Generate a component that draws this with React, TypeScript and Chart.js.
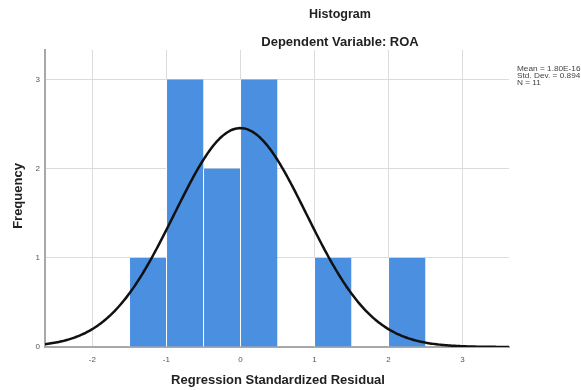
import React, { useEffect, useRef } from "react";
import { Chart, registerables } from "chart.js";

Chart.register(...registerables);

// Histogram bins (bin centers) and frequencies
const binCenters = [-1.25, -0.75, -0.25, 0.25, 0.75, 1.25, 1.75, 2.25];
const frequencies = [1, 3, 2, 3, 0, 1, 0, 1];
const binWidth = 0.5;

// Summary statistics shown at right
const statMean = 1.8e-16;
const statSd = 0.894;
const statN = 11;
const statLabels = ["Mean = 1.80E-16", "Std. Dev. = 0.894", "N = 11"];

const xTicks = [-2, -1, 0, 1, 2, 3];
const yTicks = [0, 1, 2, 3];
const xMin = -2.64;
const xMax = 3.63;
const yMax = 3.33;

const titleText = "Histogram";
const subtitleText = "Dependent Variable: ROA";
const xTitle = "Regression Standardized Residual";
const yTitle = "Frequency";

const FONT = "'Liberation Sans', Arial, sans-serif";

function normalCurve() {
  const pts: { x: number; y: number }[] = [];
  const scale = statN * binWidth;
  const steps = 300;
  for (let i = 0; i <= steps; i++) {
    const x = xMin + ((xMax - xMin) * i) / steps;
    const z = (x - statMean) / statSd;
    const y = (scale / (statSd * Math.sqrt(2 * Math.PI))) * Math.exp(-0.5 * z * z);
    pts.push({ x, y });
  }
  return pts;
}

const textPlugin = {
  id: "textPlugin",
  afterDraw(chart: any) {
    const ctx = chart.ctx;
    const area = chart.chartArea;
    ctx.save();
    ctx.fillStyle = "#222";
    ctx.textAlign = "center";
    ctx.textBaseline = "middle";
    ctx.font = `bold 12.5px ${FONT}`;
    ctx.fillText(titleText, 340, 15);
    ctx.font = `bold 13px ${FONT}`;
    ctx.fillText(subtitleText, 340, 42);
    ctx.fillText(xTitle, (area.left + area.right) / 2 + 1, 380);
    ctx.save();
    ctx.translate(18, 196);
    ctx.rotate(-Math.PI / 2);
    ctx.fillText(yTitle, 0, 0);
    ctx.restore();
    ctx.textAlign = "left";
    ctx.font = `7.5px ${FONT}`;
    ctx.fillStyle = "#444";
    statLabels.forEach((s, i) => {
      ctx.save();
      ctx.translate(517, 69 + i * 7);
      ctx.scale(1.1, 1);
      ctx.fillText(s, 0, 0);
      ctx.restore();
    });
    ctx.restore();
  },
};

export default function App() {
  const ref = useRef<HTMLCanvasElement | null>(null);
  useEffect(() => {
    if (!ref.current) return;
    const chart = new Chart(ref.current, {
      type: "bar",
      data: {
        datasets: [
          {
            type: "line",
            data: normalCurve(),
            borderColor: "#111",
            borderWidth: 2.5,
            pointRadius: 0,
            tension: 0,
            fill: false,
          } as any,
          {
            type: "bar",
            data: binCenters.map((c, i) => ({ x: c, y: frequencies[i] })),
            backgroundColor: "#4b8fe1",
            borderColor: "#ffffff",
            borderWidth: { left: 1, right: 0, top: 0, bottom: 0 },
            borderSkipped: false,
            barPercentage: 1,
            categoryPercentage: 1,
          } as any,
        ],
      },
      options: {
        responsive: false,
        animation: false,
        layout: { padding: { top: 50, right: 72, left: 0, bottom: 0 } },
        plugins: {
          legend: { display: false },
          tooltip: { enabled: false },
          title: { display: false },
        },
        scales: {
          x: {
            type: "linear",
            min: xMin,
            max: xMax,
            offset: false,
            afterFit: (s: any) => {
              s.height = 43;
            },
            afterBuildTicks: (s: any) => {
              s.ticks = xTicks.map((v) => ({ value: v }));
            },
            grid: { color: "#dcdcdc", lineWidth: 1, drawTicks: false, offset: false },
            border: { color: "#a8a8a8", width: 2 },
            ticks: {
              font: { family: FONT, size: 8 },
              color: "#555",
              padding: 8,
              maxRotation: 0,
              callback: (v: any) => String(v),
            },
          },
          y: {
            type: "linear",
            min: 0,
            max: yMax,
            afterFit: (s: any) => {
              s.width = 45;
            },
            afterBuildTicks: (s: any) => {
              s.ticks = yTicks.map((v) => ({ value: v }));
            },
            grid: { color: "#dcdcdc", lineWidth: 1, drawTicks: false },
            border: { color: "#a8a8a8", width: 2 },
            ticks: {
              font: { family: FONT, size: 8 },
              color: "#555",
              padding: 5,
              callback: (v: any) => String(v),
            },
          },
        },
      },
      plugins: [textPlugin],
    });
    return () => chart.destroy();
  }, []);
  return (
    <div style={{ position: "absolute", left: 0, top: 0, width: 581, height: 390, background: "#fff" }}>
      <canvas ref={ref} width={581} height={390} />
    </div>
  );
}
